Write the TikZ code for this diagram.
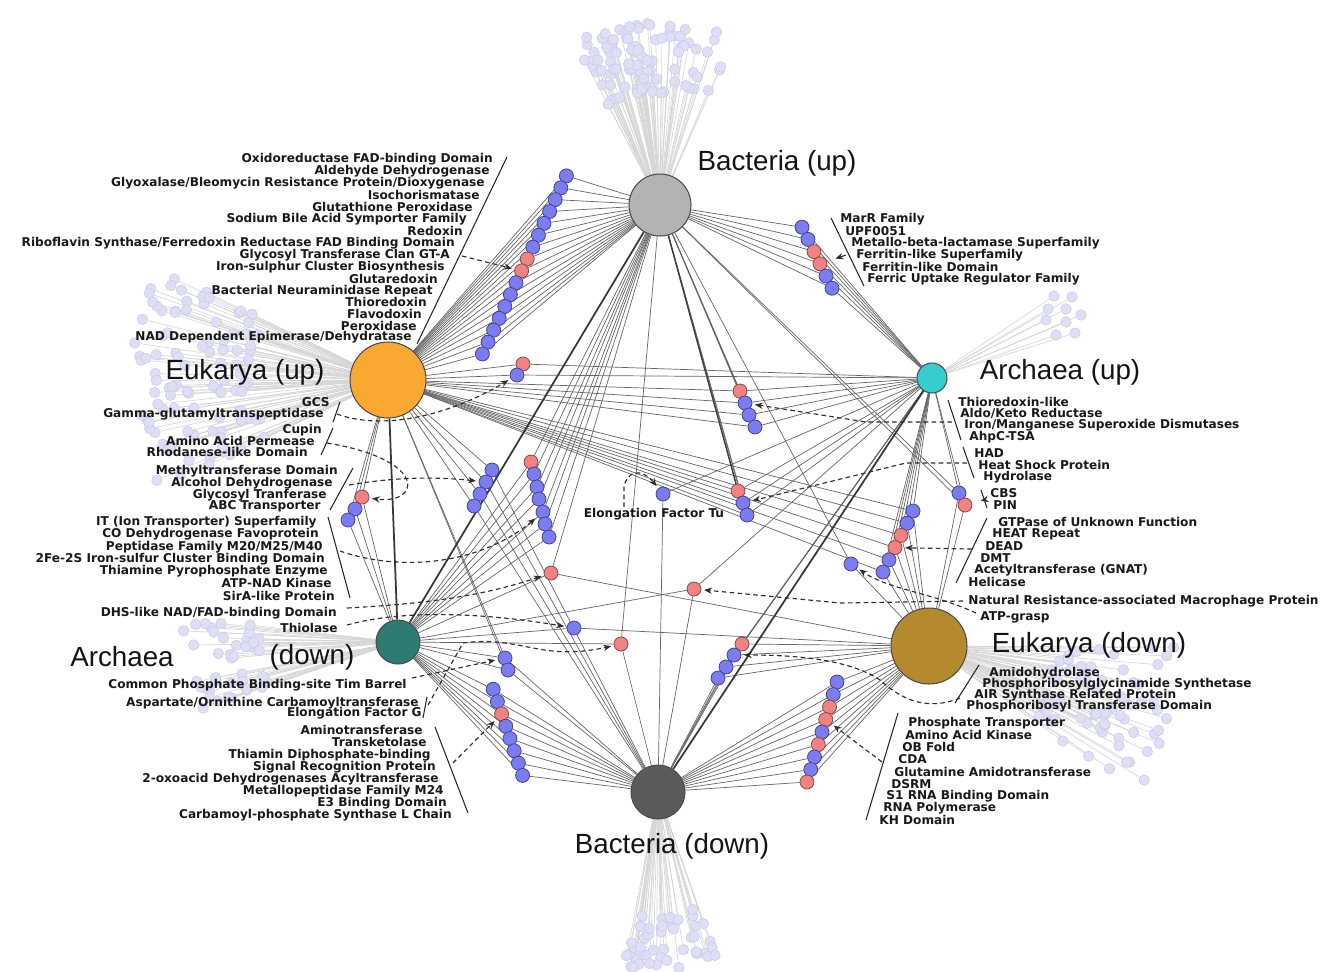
\documentclass[tikz,border=0pt]{standalone}
\usepackage{fontspec}
\usetikzlibrary{arrows.meta, backgrounds}
\newfontfamily\lblfam{DejaVu Sans}
\newfontfamily\bigfam{Liberation Sans}
\newcommand\lblfont{\lblfam\bfseries\fontsize{6.9}{7}\selectfont}
\newcommand\bigfont{\bigfam\fontsize{15.8}{18}\selectfont}
\definecolor{dblue}{HTML}{7B7BF2}
\definecolor{dred}{HTML}{F08282}
\definecolor{bactup}{HTML}{B3B3B3}
\definecolor{eukup}{HTML}{F9A932}
\definecolor{archup}{HTML}{36CDCD}
\definecolor{archdn}{HTML}{2E7B73}
\definecolor{eukdn}{HTML}{B5892E}
\definecolor{bactdn}{HTML}{5B5B5B}
\definecolor{satfill}{HTML}{DEDEF4}
\definecolor{satdraw}{HTML}{C9C9E9}
\tikzset{
  hub/.style={circle, draw=black!70, line width=0.6pt, inner sep=0pt, minimum size=#1},
  dom/.style={circle, draw=#1!55!black, fill=#1, line width=0.45pt, inner sep=0pt, minimum size=0.28cm},
  sat/.style={circle, draw=satdraw, fill=satfill, line width=0.3pt, inner sep=0pt, minimum size=0.21cm},
  link/.style={draw=black!60, line width=0.4pt},
  satlink/.style={draw=black!16, line width=0.35pt},
  hint/.style={draw=black!82, line width=0.65pt, dash pattern=on 2.6pt off 1.9pt,
    -{Stealth[length=4.5pt,width=3.6pt]}, shorten >=1.5pt},
  pointer/.style={draw=black!82, line width=0.6pt, -{Stealth[length=4.5pt,width=3.6pt]}, shorten >=5pt},
  lbar/.style={draw=black!85, line width=0.6pt},
  lbl/.style={font=\lblfont, inner sep=0pt, text=black!90},
  biglbl/.style={font=\bigfont, inner sep=0pt, text=black!92}
}

\begin{document}
\begin{tikzpicture}[x=0.02cm, y=-0.02cm]
\useasboundingbox (0,0) rectangle (1331,971);

% hubs
\node[hub=1.24cm, fill=bactup] (BU) at (660,205) {};
\node[hub=1.52cm, fill=eukup] (EU) at (388,380) {};
\node[hub=0.6cm, fill=archup] (AU) at (932,378) {};
\node[hub=0.88cm, fill=archdn] (AD) at (398,642) {};
\node[hub=1.52cm, fill=eukdn] (ED) at (929,646) {};
\node[hub=1.08cm, fill=bactdn] (BD) at (658,792) {};

% satellite clouds
\pgfmathsetseed{11}
\foreach \k in {1,...,90}{
  \pgfmathsetmacro\sa{92+26*rand}
  \pgfmathsetmacro\sd{150+38*rand}
  \node[sat] (bus\k) at ({660+\sd*cos(\sa)},{205-\sd*sin(\sa)}) {};
}
\foreach \k in {1,...,100}{
  \pgfmathsetmacro\sa{180+26*rand}
  \pgfmathsetmacro\sd{195+62*rand}
  \node[sat] (eus\k) at ({388+\sd*cos(\sa)},{380-\sd*sin(\sa)}) {};
}
\foreach \k in {1,...,42}{
  \pgfmathsetmacro\sa{186+13*rand}
  \pgfmathsetmacro\sd{175+40*rand}
  \node[sat] (ads\k) at ({398+\sd*cos(\sa)},{642-\sd*sin(\sa)}) {};
}
\foreach \k in {1,...,65}{
  \pgfmathsetmacro\sa{-18+18*rand}
  \pgfmathsetmacro\sd{190+65*rand}
  \node[sat] (eds\k) at ({929+\sd*cos(\sa)},{646-\sd*sin(\sa)}) {};
}
\foreach \k in {1,...,50}{
  \pgfmathsetmacro\sa{-86+16*rand}
  \pgfmathsetmacro\sd{150+28*rand}
  \node[sat] (bds\k) at ({658+\sd*cos(\sa)},{792-\sd*sin(\sa)}) {};
}
\foreach \x/\y [count=\k] in {1054/296,1072/297,1048/309,1066/309,1081/315,1046/320,1066/322,1056/335,1075/333}
  \node[sat] (aus\k) at (\x,\y) {};

% hub names
\node[biglbl] (tBU) at (777,163) {Bacteria (up)};
\node[biglbl] (tEU) at (245,372) {Eukarya (up)};
\node[biglbl] (tAU) at (1060,372) {Archaea (up)};
\node[biglbl] (tAD1) at (122,657) {Archaea};
\node[biglbl] (tAD2) at (312,657) {(down)};
\node[biglbl] (tED) at (1089,645) {Eukarya (down)};
\node[biglbl] (tBD) at (672,846) {Bacteria (down)};

% domain nodes
\foreach \c [count=\i] in {dblue,dblue,dblue,dblue,dblue,dblue,dblue,dred,dred,dblue,dblue,dblue,dblue,dblue,dblue,dblue}
  \node[dom=\c] (a\i) at ({572-5.6*\i},{164+11.87*\i}) {};
\foreach \c [count=\i] in {dblue,dblue,dred,dred,dblue,dblue}
  \node[dom=\c] (b\i) at ({796+6*\i},{215+12.2*\i}) {};
\node[dom=dred] (c1) at (523,364) {};
\node[dom=dblue] (c2) at (517,375) {};
\node[dom=dred] (d1) at (740,391) {};
\node[dom=dblue] (d2) at (745,403) {};
\node[dom=dblue] (d3) at (749,415) {};
\node[dom=dblue] (d4) at (755,427) {};
\node[dom=dred] (e1) at (738,491) {};
\node[dom=dblue] (e2) at (743,503) {};
\node[dom=dblue] (e3) at (747,515) {};
\node[dom=dblue] (f1) at (663,494) {};
\node[dom=dblue] (g1) at (492,470) {};
\node[dom=dblue] (g2) at (486,482) {};
\node[dom=dblue] (g3) at (480,494) {};
\node[dom=dblue] (g4) at (474,506) {};
\node[dom=dred] (h1) at (362,497) {};
\node[dom=dblue] (h2) at (355,509) {};
\node[dom=dblue] (h3) at (348,520) {};
\foreach \c/\x/\y [count=\i] in {dred/531/462,dblue/534/474,dblue/537/487,dblue/539/499,dblue/543/512,dblue/545/524,dblue/549/537}
  \node[dom=\c] (i\i) at (\x,\y) {};
\node[dom=dred] (j1) at (551,573) {};
\node[dom=dblue] (k1) at (574,628) {};
\node[dom=dred] (l1) at (621,644) {};
\node[dom=dblue] (m1) at (505,658) {};
\node[dom=dblue] (m2) at (508,670) {};
\foreach \c [count=\i] in {dblue,dblue,dred,dblue,dblue,dblue,dblue,dblue}
  \node[dom=\c] (n\i) at ({489+4.2*\i},{677+12.3*\i}) {};
\node[dom=dred] (o1) at (742,644) {};
\node[dom=dblue] (o2) at (734,655) {};
\node[dom=dblue] (o3) at (726,667) {};
\node[dom=dblue] (o4) at (718,678) {};
\foreach \c [count=\i] in {dblue,dblue,dred,dred,dblue,dred,dblue,dblue,dred}
  \node[dom=\c] (p\i) at ({840.75-3.75*\i},{669.5+12.5*\i}) {};
\foreach \c [count=\i] in {dblue,dblue,dred,dred,dblue,dblue}
  \node[dom=\c] (q\i) at ({919-6*\i},{498.8+12.2*\i}) {};
\node[dom=dblue] (r1) at (851,564) {};
\node[dom=dred] (s1) at (694,589) {};
\node[dom=dblue] (t1) at (959,493) {};
\node[dom=dred] (t2) at (965,505) {};

% labels, upper left
\node[lbl, anchor=east] (la1) at (493,159) {Oxidoreductase FAD-binding Domain};
\node[lbl, anchor=east] (la2) at (490,171) {Aldehyde Dehydrogenase};
\node[lbl, anchor=east] (la3) at (485,183) {Glyoxalase/Bleomycin Resistance Protein/Dioxygenase};
\node[lbl, anchor=east] (la4) at (480,195) {Isochorismatase};
\node[lbl, anchor=east] (la5) at (473,207) {Glutathione Peroxidase};
\node[lbl, anchor=east] (la6) at (467,219) {Sodium Bile Acid Symporter Family};
\node[lbl, anchor=east] (la7) at (463,231) {Redoxin};
\node[lbl, anchor=east] (la8) at (455,243) {Riboflavin Synthase/Ferredoxin Reductase FAD Binding Domain};
\node[lbl, anchor=east] (la9) at (450,255) {Glycosyl Transferase Clan GT-A};
\node[lbl, anchor=east] (la10) at (445,267) {Iron-sulphur Cluster Biosynthesis};
\node[lbl, anchor=east] (la11) at (438,279) {Glutaredoxin};
\node[lbl, anchor=east] (la12) at (433,291) {Bacterial Neuraminidase Repeat};
\node[lbl, anchor=east] (la13) at (427,302) {Thioredoxin};
\node[lbl, anchor=east] (la14) at (422,314) {Flavodoxin};
\node[lbl, anchor=east] (la15) at (417,326) {Peroxidase};
\node[lbl, anchor=east] (la16) at (412,337) {NAD Dependent Epimerase/Dehydratase};

% labels, left
\node[lbl, anchor=east] (lc1) at (330,402) {GCS};
\node[lbl, anchor=east] (lc2) at (324,414) {Gamma-glutamyltranspeptidase};
\node[lbl, anchor=east] (lh1) at (322,430) {Cupin};
\node[lbl, anchor=east] (lh2) at (315,441) {Amino Acid Permease};
\node[lbl, anchor=east] (lh3) at (308,452) {Rhodanese-like Domain};
\node[lbl, anchor=east] (lg1) at (338,471) {Methyltransferase Domain};
\node[lbl, anchor=east] (lg2) at (333,483) {Alcohol Dehydrogenase};
\node[lbl, anchor=east] (lg3) at (327,495) {Glycosyl Tranferase};
\node[lbl, anchor=east] (lg4) at (321,506) {ABC Transporter};
\node[lbl, anchor=east] (li1) at (317,522) {IT (Ion Transporter) Superfamily};
\node[lbl, anchor=east] (li2) at (319,534) {CO Dehydrogenase Favoprotein};
\node[lbl, anchor=east] (li3) at (323,547) {Peptidase Family M20/M25/M40};
\node[lbl, anchor=east] (li4) at (325,559) {2Fe-2S Iron-sulfur Cluster Binding Domain};
\node[lbl, anchor=east] (li5) at (328,571) {Thiamine Pyrophosphate Enzyme};
\node[lbl, anchor=east] (li6) at (332,583) {ATP-NAD Kinase};
\node[lbl, anchor=east] (li7) at (335,596) {SirA-like Protein};
\node[lbl, anchor=east] (lj1) at (337,613) {DHS-like NAD/FAD-binding Domain};
\node[lbl, anchor=east] (lk1) at (338,628) {Thiolase};
\node[lbl, anchor=east] (lm1) at (407,685) {Common Phosphate Binding-site Tim Barrel};
\node[lbl, anchor=east] (ll1) at (419,703) {Aspartate/Ornithine Carbamoyltransferase};
\node[lbl, anchor=east] (ll2) at (422,713) {Elongation Factor G};
\node[lbl, anchor=east] (ln1) at (423,730) {Aminotransferase};
\node[lbl, anchor=east] (ln2) at (427,742) {Transketolase};
\node[lbl, anchor=east] (ln3) at (431,755) {Thiamin Diphosphate-binding};
\node[lbl, anchor=east] (ln4) at (436,767) {Signal Recognition Protein};
\node[lbl, anchor=east] (ln5) at (439,779) {2-oxoacid Dehydrogenases Acyltransferase};
\node[lbl, anchor=east] (ln6) at (444,791) {Metallopeptidase Family M24};
\node[lbl, anchor=east] (ln7) at (447,803) {E3 Binding Domain};
\node[lbl, anchor=east] (ln8) at (452,815) {Carbamoyl-phosphate Synthase L Chain};
\node[lbl] (lf1) at (654,514) {Elongation Factor Tu};

% labels, right
\node[lbl, anchor=west] (lb1) at (840,219) {MarR Family};
\node[lbl, anchor=west] (lb2) at (845,231) {UPF0051};
\node[lbl, anchor=west] (lb3) at (851,243) {Metallo-beta-lactamase Superfamily};
\node[lbl, anchor=west] (lb4) at (856,255) {Ferritin-like Superfamily};
\node[lbl, anchor=west] (lb5) at (862,267) {Ferritin-like Domain};
\node[lbl, anchor=west] (lb6) at (867,279) {Ferric Uptake Regulator Family};
\node[lbl, anchor=west] (ld1) at (958,402) {Thioredoxin-like};
\node[lbl, anchor=west] (ld2) at (960,413) {Aldo/Keto Reductase};
\node[lbl, anchor=west] (ld3) at (964,425) {Iron/Manganese Superoxide Dismutases};
\node[lbl, anchor=west] (ld4) at (969,437) {AhpC-TSA};
\node[lbl, anchor=west] (le1) at (974,453) {HAD};
\node[lbl, anchor=west] (le2) at (978,465) {Heat Shock Protein};
\node[lbl, anchor=west] (le3) at (983,477) {Hydrolase};
\node[lbl, anchor=west] (lt1) at (990,493) {CBS};
\node[lbl, anchor=west] (lt2) at (993,505) {PIN};
\node[lbl, anchor=west] (lq1) at (998,522) {GTPase of Unknown Function};
\node[lbl, anchor=west] (lq2) at (992,534) {HEAT Repeat};
\node[lbl, anchor=west] (lq3) at (985,546) {DEAD};
\node[lbl, anchor=west] (lq4) at (980,558) {DMT};
\node[lbl, anchor=west] (lq5) at (974,570) {Acetyltransferase (GNAT)};
\node[lbl, anchor=west] (lq6) at (968,582) {Helicase};
\node[lbl, anchor=west] (lnr) at (968,601) {Natural Resistance-associated Macrophage Protein};
\node[lbl, anchor=west] (latp) at (980,617) {ATP-grasp};
\node[lbl, anchor=west] (lo1) at (989,673) {Amidohydrolase};
\node[lbl, anchor=west] (lo2) at (982,684) {Phosphoribosylglycinamide Synthetase};
\node[lbl, anchor=west] (lo3) at (974,695) {AIR Synthase Related Protein};
\node[lbl, anchor=west] (lo4) at (966,706) {Phosphoribosyl Transferase Domain};
\node[lbl, anchor=west] (lp1) at (908,723) {Phosphate Transporter};
\node[lbl, anchor=west] (lp2) at (905,735) {Amino Acid Kinase};
\node[lbl, anchor=west] (lp3) at (902,747) {OB Fold};
\node[lbl, anchor=west] (lp4) at (898,759) {CDA};
\node[lbl, anchor=west] (lp5) at (894,772) {Glutamine Amidotransferase};
\node[lbl, anchor=west] (lp6) at (891,784) {DSRM};
\node[lbl, anchor=west] (lp7) at (886,796) {S1 RNA Binding Domain};
\node[lbl, anchor=west] (lp8) at (883,808) {RNA Polymerase};
\node[lbl, anchor=west] (lp9) at (879,820) {KH Domain};

% bars beside the label lists
\draw[lbar] (507,157) -- (417,344);
\draw[lbar] (340,402) -- (333,422);
\draw[lbar] (333,428) -- (321,455);
\draw[lbar] (353,468) -- (330,510);
\draw[lbar] (328,517) -- (350,598);
\draw[lbar] (427,697) -- (423,718);
\draw[lbar] (435,727) -- (468,813);
\draw[lbar] (831,218) -- (864,286);
\draw[lbar] (948,400) -- (961,440);
\draw[lbar] (963,447) -- (974,478);
\draw[lbar] (981,490) -- (987,508);
\draw[lbar] (987,518) -- (956,583);
\draw[lbar] (979,665) -- (955,703);
\draw[lbar] (898,713) -- (866,820);

% pointers from the lists
\coordinate (hA) at (462,256);
\coordinate (hC) at (337,414);
\coordinate (hH) at (327,443);
\coordinate (hG) at (349,485);
\coordinate (hI) at (340,551);
\coordinate (hJ) at (347,608);
\coordinate (hK) at (347,625);
\coordinate (hM) at (412,678);
\coordinate (hL) at (428,705);
\coordinate (hN) at (453,763);
\coordinate (hB) at (846,255);
\coordinate (hD) at (952,422);
\coordinate (hE) at (967,463);
\coordinate (hT) at (984,500);
\coordinate (hQ) at (972,549);
\coordinate (hS) at (963,601);
\coordinate (hR) at (976,613);
\coordinate (hO) at (960,698);
\coordinate (hP) at (882,762);
\coordinate (hF) at (624,507);
\draw[hint] (hA) -- (a9);
\draw[hint] (hC) .. controls (380,430) and (445,418) .. (c2);
\draw[hint] (hH) .. controls (430,460) and (420,505) .. (h1);
\draw[hint] (hG) .. controls (390,478) and (430,476) .. (g2);
\draw[hint] (hI) .. controls (400,572) and (480,565) .. (i5);
\draw[hint] (hJ) .. controls (420,604) and (480,597) .. (j1);
\draw[hint] (hK) .. controls (400,610) and (480,612) .. (k1);
\draw[hint] (hM) -- (m1);
\draw[hint] (hL) -- (463,643) .. controls (520,635) and (540,662) .. (l1);
\draw[hint] (hN) -- (n3);
\draw[pointer] (hB) -- (b4);
\draw[hint] (hD) -- (866,422) -- (d2);
\draw[hint] (hE) -- (906,463) -- (e2);
\draw[pointer] (hT) -- (t2);
\draw[hint] (hQ) -- (q4);
\draw[hint] (hS) -- (840,603) -- (s1);
\draw[hint] (hR) .. controls (930,592) and (890,590) .. (r1);
\draw[hint] (hO) .. controls (925,712) and (900,698) .. (880,680) .. controls (850,660) and (800,655) .. (o2);
\draw[hint] (hP) -- (p4);
\draw[hint] (hF) -- (624,487) .. controls (627,470) and (642,468) .. (f1);

% connectors
\begin{scope}[on background layer]
\fill[white] (0,0) rectangle (1331,971);
\foreach \k in {1,...,90} \draw[satlink] (BU) -- (bus\k);
\foreach \k in {1,...,100} \draw[satlink] (EU) -- (eus\k);
\foreach \k in {1,...,42} \draw[satlink] (AD) -- (ads\k);
\foreach \k in {1,...,65} \draw[satlink] (ED) -- (eds\k);
\foreach \k in {1,...,50} \draw[satlink] (BD) -- (bds\k);
\foreach \k in {1,...,9} \draw[satlink] (AU) -- (aus\k);

\foreach \i in {1,...,16} {\draw[link] (EU) -- (a\i); \draw[link] (BU) -- (a\i);}
\foreach \i in {1,...,6} {\draw[link] (BU) -- (b\i); \draw[link] (AU) -- (b\i);}
\foreach \n in {c1,c2} {\draw[link] (EU) -- (\n); \draw[link] (AU) -- (\n);}
\foreach \n in {d1,d2,d3,d4} {\draw[link] (EU) -- (\n); \draw[link] (BU) -- (\n); \draw[link] (AU) -- (\n);}
\foreach \n in {e1,e2,e3} {\draw[link] (EU) -- (\n); \draw[link] (BU) -- (\n); \draw[link] (AU) -- (\n);}
\draw[link] (AU) -- (f1); \draw[link] (BD) -- (f1);
\foreach \n in {g1,g2,g3,g4} {\draw[link] (EU) -- (\n); \draw[link] (BD) -- (\n);}
\foreach \n in {h1,h2,h3} {\draw[link] (EU) -- (\n); \draw[link] (AD) -- (\n);}
\foreach \i in {1,...,7} {\draw[link] (BU) -- (i\i); \draw[link] (AD) -- (i\i);}
\draw[link] (BU) -- (j1); \draw[link] (AD) -- (j1); \draw[link] (ED) -- (j1);
\draw[link] (AD) -- (k1); \draw[link] (ED) -- (k1);
\draw[link] (BU) -- (l1); \draw[link] (BD) -- (l1); \draw[link] (AD) -- (l1);
\foreach \n in {m1,m2} {\draw[link] (EU) -- (\n); \draw[link] (BD) -- (\n); \draw[link] (AD) -- (\n);}
\foreach \i in {1,...,8} {\draw[link] (AD) -- (n\i); \draw[link] (BD) -- (n\i);}
\foreach \n in {o1,o2,o3,o4} {\draw[link] (AU) -- (\n); \draw[link] (ED) -- (\n); \draw[link] (BD) -- (\n);}
\foreach \i in {1,...,9} {\draw[link] (ED) -- (p\i); \draw[link] (BD) -- (p\i);}
\foreach \i in {1,...,6} {\draw[link] (AU) -- (q\i); \draw[link] (ED) -- (q\i); \draw[link] (EU) -- (q\i);}
\draw[link] (BU) -- (r1); \draw[link] (ED) -- (r1);
\draw[link] (AU) -- (s1); \draw[link] (BD) -- (s1); \draw[link] (AD) -- (s1);
\foreach \n in {t1,t2} {\draw[link] (AU) -- (\n); \draw[link] (ED) -- (\n); \draw[link] (BU) -- (\n);}
\draw[link, line width=1pt, draw=black!78] (BU) -- (AD);
\draw[link, line width=1pt, draw=black!78] (AU) -- (BD);
\draw[link, line width=1pt, draw=black!78] (EU) -- (AD);
\draw[link, line width=0.8pt, draw=black!75] (BU) -- (e1);
\end{scope}
\end{tikzpicture}
\end{document}
